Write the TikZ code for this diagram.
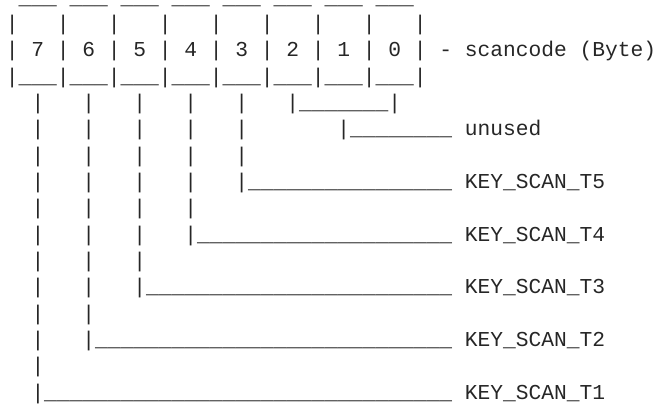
\documentclass[tikz,border=0pt]{standalone}
\usepackage{fontspec}
\newfontfamily\asciifont{Liberation Mono}
\begin{document}
\begin{tikzpicture}[x=0.75pt,y=-0.75pt,
  asciirow/.style={anchor=base west, inner sep=0pt, outer sep=0pt, text=black!85,
    text height=1.2ex, text depth=0.3ex,
    font=\asciifont\fontsize{15.935pt}{19pt}\selectfont}]
\useasboundingbox (0,0) rectangle (658,404);
% column c: x = 6 + 12.75 c ; row r: baseline y = 4 + 26.35 r
\node[asciirow] (r0)  at (6+12.75*1, 4.5+26.35*0)  {\_\_\_~\_\_\_~\_\_\_~\_\_\_~\_\_\_~\_\_\_~\_\_\_~\_\_\_};
\node[asciirow] (r1)  at (6+12.75*0, 4+26.35*1)  {|~~~|~~~|~~~|~~~|~~~|~~~|~~~|~~~|};
\node[asciirow] (r2)  at (6+12.75*0, 4+26.35*2)  {|~7~|~6~|~5~|~4~|~3~|~2~|~1~|~0~|~-~scancode~(Byte)};
\node[asciirow] (r3)  at (6+12.75*0, 4+26.35*3)  {|\_\_\_|\_\_\_|\_\_\_|\_\_\_|\_\_\_|\_\_\_|\_\_\_|\_\_\_|};
\node[asciirow] (r4)  at (6+12.75*2, 4+26.35*4)  {|~~~|~~~|~~~|~~~|~~~|\_\_\_\_\_\_\_|};
\node[asciirow] (r5)  at (6+12.75*2, 4+26.35*5)  {|~~~|~~~|~~~|~~~|~~~~~~~|\_\_\_\_\_\_\_\_~unused};
\node[asciirow] (r6)  at (6+12.75*2, 4+26.35*6)  {|~~~|~~~|~~~|~~~|};
\node[asciirow] (r7)  at (6+12.75*2, 4+26.35*7)  {|~~~|~~~|~~~|~~~|\_\_\_\_\_\_\_\_\_\_\_\_\_\_\_\_~KEY\_SCAN\_T5};
\node[asciirow] (r8)  at (6+12.75*2, 4+26.35*8)  {|~~~|~~~|~~~|};
\node[asciirow] (r9)  at (6+12.75*2, 4+26.35*9)  {|~~~|~~~|~~~|\_\_\_\_\_\_\_\_\_\_\_\_\_\_\_\_\_\_\_\_~KEY\_SCAN\_T4};
\node[asciirow] (r10) at (6+12.75*2, 4+26.35*10) {|~~~|~~~|};
\node[asciirow] (r11) at (6+12.75*2, 4+26.35*11) {|~~~|~~~|\_\_\_\_\_\_\_\_\_\_\_\_\_\_\_\_\_\_\_\_\_\_\_\_~KEY\_SCAN\_T3};
\node[asciirow] (r12) at (6+12.75*2, 4+26.35*12) {|~~~|};
\node[asciirow] (r13) at (6+12.75*2, 4+26.35*13) {|~~~|\_\_\_\_\_\_\_\_\_\_\_\_\_\_\_\_\_\_\_\_\_\_\_\_\_\_\_\_~KEY\_SCAN\_T2};
\node[asciirow] (r14) at (6+12.75*2, 4+26.35*14) {|};
\node[asciirow] (r15) at (6+12.75*2, 4+26.35*15) {|\_\_\_\_\_\_\_\_\_\_\_\_\_\_\_\_\_\_\_\_\_\_\_\_\_\_\_\_\_\_\_\_~KEY\_SCAN\_T1};
\end{tikzpicture}
\end{document}
